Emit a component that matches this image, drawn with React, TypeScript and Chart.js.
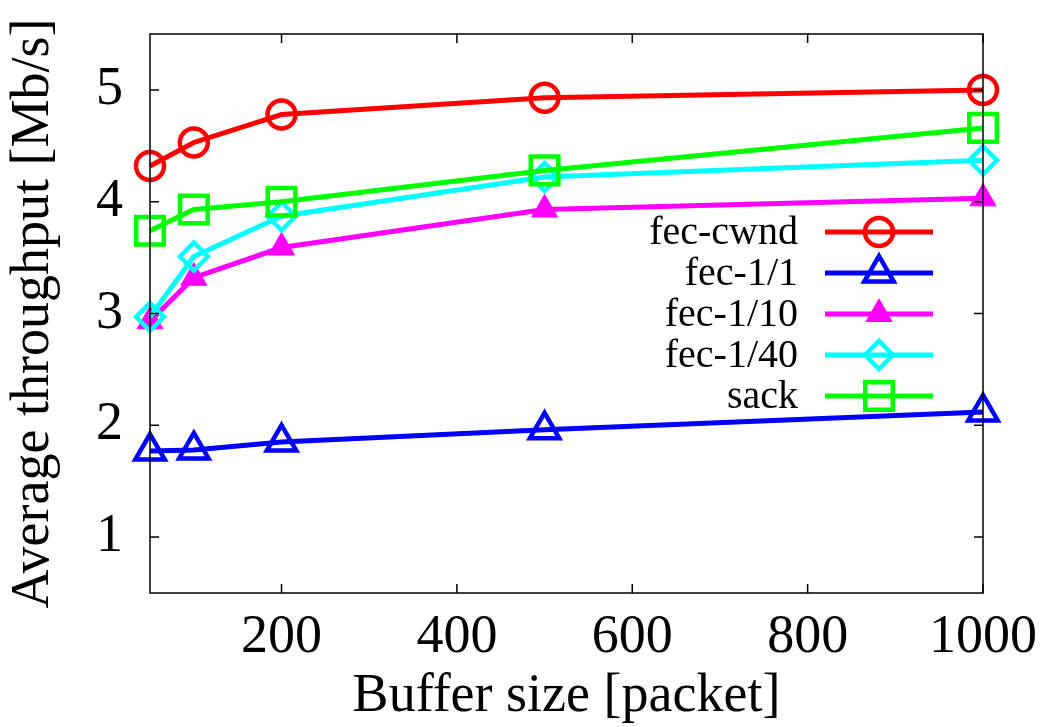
import React, { useEffect, useRef } from 'react';
import { Chart, registerables } from 'chart.js';
import { drawPoint } from 'chart.js/helpers';

Chart.register(...registerables);

// ---- data ----
const bufferSizes = [50, 100, 200, 500, 1000];
const fecCwnd = [4.32, 4.53, 4.78, 4.93, 5.0];
const fec1of1 = [1.77, 1.78, 1.85, 1.96, 2.12];
const fec1of10 = [2.93, 3.32, 3.59, 3.93, 4.03];
const fec1of40 = [2.97, 3.51, 3.87, 4.22, 4.37];
const sack = [3.74, 3.93, 4.0, 4.28, 4.66];

const xTickValues = [200, 400, 600, 800, 1000];
const yTickValues = [1, 2, 3, 4, 5];

const seriesLabels = ['fec-cwnd', 'fec-1/1', 'fec-1/10', 'fec-1/40', 'sack'];
const seriesValues = [fecCwnd, fec1of1, fec1of10, fec1of40, sack];
const seriesColors = ['#ff0000', '#0000ff', '#ff00ff', '#00ffff', '#00ff00'];
const seriesMarkers = ['circle', 'triangle', 'triangle', 'rectRot', 'rect'];
const seriesFilled = [false, false, true, false, false];
const seriesRadius = [14, 17, 15, 14, 19.5];

const FONT = "'Liberation Serif', 'Times New Roman', serif";
Chart.defaults.font.family = FONT;
Chart.defaults.color = '#000';

const frameLayout = { left: 150, right: 983, top: 34, bottom: 593, width: 1049, height: 727 };
const legendLayout = { textRight: 798, lineStart: 825, lineEnd: 933, markerX: 879, firstRow: 232, rowGap: 41 };

const framePlugin = {
  id: 'gnuplotFrame',
  afterDatasetsDraw(chart: any) {
    const { ctx, chartArea: a, scales } = chart;
    const xs = scales.x;
    const ys = scales.y;
    ctx.save();
    ctx.strokeStyle = '#000';
    ctx.lineWidth = 1.5;
    ctx.strokeRect(a.left, a.top, a.right - a.left, a.bottom - a.top);
    const tl = 9;
    ctx.beginPath();
    xs.ticks.forEach((t: any) => {
      const px = xs.getPixelForValue(t.value);
      ctx.moveTo(px, a.bottom);
      ctx.lineTo(px, a.bottom - tl);
      ctx.moveTo(px, a.top);
      ctx.lineTo(px, a.top + tl);
    });
    ys.ticks.forEach((t: any) => {
      const py = ys.getPixelForValue(t.value);
      ctx.moveTo(a.left, py);
      ctx.lineTo(a.left + tl, py);
      ctx.moveTo(a.right, py);
      ctx.lineTo(a.right - tl, py);
    });
    ctx.stroke();
    ctx.restore();
  },
};

const legendPlugin = {
  id: 'gnuplotLegend',
  afterDatasetsDraw(chart: any) {
    const ctx = chart.ctx;
    chart.data.datasets.forEach((ds: any, i: number) => {
      const y = legendLayout.firstRow + i * legendLayout.rowGap;
      ctx.save();
      ctx.font = `40px ${FONT}`;
      ctx.fillStyle = '#000';
      ctx.textAlign = 'right';
      ctx.textBaseline = 'middle';
      ctx.fillText(ds.label, legendLayout.textRight, y + 1);
      ctx.strokeStyle = ds.borderColor;
      ctx.lineWidth = ds.borderWidth;
      ctx.beginPath();
      ctx.moveTo(legendLayout.lineStart, y);
      ctx.lineTo(legendLayout.lineEnd, y);
      ctx.stroke();
      ctx.strokeStyle = ds.pointBorderColor;
      ctx.fillStyle = ds.pointBackgroundColor;
      ctx.lineWidth = ds.pointBorderWidth;
      drawPoint(ctx, { pointStyle: ds.pointStyle, radius: ds.pointRadius, borderWidth: ds.pointBorderWidth, rotation: 0 } as any, legendLayout.markerX, y);
      ctx.restore();
    });
  },
};

export default function App() {
  const ref = useRef<HTMLCanvasElement | null>(null);

  useEffect(() => {
    if (!ref.current) return;
    const datasets = seriesLabels.map((label, i) => ({
      label,
      data: bufferSizes.map((b, j) => ({ x: b, y: seriesValues[i][j] })),
      borderColor: seriesColors[i],
      backgroundColor: seriesColors[i],
      borderWidth: 5,
      pointStyle: seriesMarkers[i],
      pointRadius: seriesRadius[i],
      pointBorderWidth: seriesFilled[i] ? 1 : 4.5,
      pointBorderColor: seriesColors[i],
      pointBackgroundColor: seriesFilled[i] ? seriesColors[i] : 'rgba(0,0,0,0)',
      tension: 0,
      fill: false,
      clip: false as any,
      order: seriesLabels.length - i,
    }));

    const tickFont = { family: FONT, size: 54 };
    const titleFont = { family: FONT, size: 54, lineHeight: 1.1 };

    const chart = new Chart(ref.current, {
      type: 'line',
      data: { datasets },
      plugins: [framePlugin, legendPlugin],
      options: {
        responsive: false,
        animation: false,
        devicePixelRatio: 1,
        events: [],
        layout: {
          padding: {
            left: 0,
            top: frameLayout.top,
            right: frameLayout.width - frameLayout.right,
            bottom: 0,
          },
        },
        plugins: {
          legend: { display: false },
          tooltip: { enabled: false },
        },
        scales: {
          x: {
            type: 'linear',
            min: 50,
            max: 1000,
            grid: { display: false, drawTicks: false },
            border: { display: false },
            afterBuildTicks: (scale: any) => {
              scale.ticks = xTickValues.map((v) => ({ value: v }));
            },
            afterFit: (scale: any) => {
              scale.height = frameLayout.height - frameLayout.bottom;
              scale.paddingLeft = 0;
              scale.paddingRight = 0;
            },
            ticks: {
              color: '#000',
              font: tickFont,
              padding: 12,
              maxRotation: 0,
              autoSkip: false,
              callback: (v: any) => String(v),
            },
            title: {
              display: true,
              text: 'Buffer size [packet]',
              color: '#000',
              font: titleFont,
              padding: { top: 0, bottom: 0 },
            },
          },
          y: {
            type: 'linear',
            min: 0.5,
            max: 5.5,
            grid: { display: false, drawTicks: false },
            border: { display: false },
            afterBuildTicks: (scale: any) => {
              scale.ticks = yTickValues.map((v) => ({ value: v }));
            },
            afterFit: (scale: any) => {
              scale.width = frameLayout.left;
              scale.paddingTop = 0;
              scale.paddingBottom = 0;
            },
            ticks: {
              color: '#000',
              font: tickFont,
              padding: 27,
              callback: (v: any) => String(v),
            },
            title: {
              display: true,
              text: 'Average throughput [Mb/s]',
              color: '#000',
              font: titleFont,
              padding: { top: 4, bottom: 0 },
            },
          },
        },
      } as any,
    });
    return () => chart.destroy();
  }, []);

  return (
    <div style={{ position: 'absolute', left: 0, top: 0, width: frameLayout.width, height: frameLayout.height, background: '#fff' }}>
      <canvas ref={ref} width={frameLayout.width} height={frameLayout.height} style={{ display: 'block' }} />
    </div>
  );
}
